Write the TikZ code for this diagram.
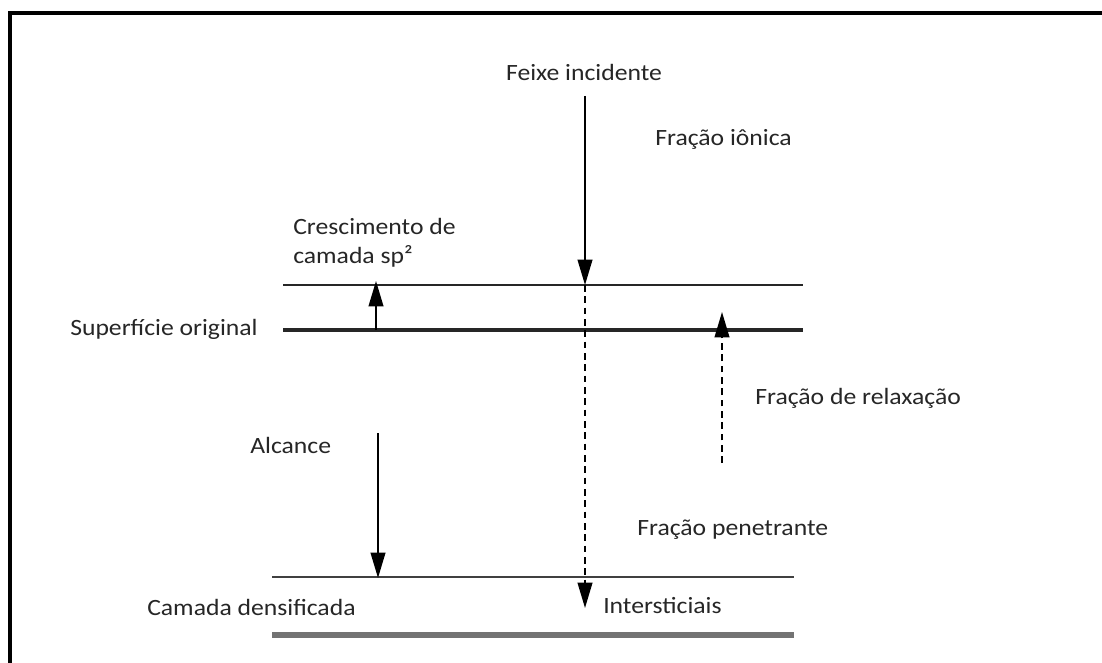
\documentclass[tikz,border=0pt]{standalone}
\usepackage{fontspec}
\setmainfont{Carlito}[FakeStretch=1.1]
\usetikzlibrary{arrows.meta}
\tikzset{
  lbl/.style={inner sep=0pt, font=\fontsize{17.5}{21}\selectfont, text=black!85, anchor=west},
  layer/.style={line width=1.7pt, draw=black!85},
  arr/.style={line width=1.4pt, -{Triangle[length=19pt,width=11pt]}},
  dsh/.style={line width=1.7pt, dash pattern=on 5pt off 3.5pt},
}
\begin{document}
\begin{tikzpicture}[x=0.75pt,y=-0.75pt]
\useasboundingbox (0,0) rectangle (1102,663);
\fill[white] (0,0) rectangle (1102,663);
% frame
\draw[line width=3pt] (10,663) -- (10,13) -- (1102,13);
% layer lines
\coordinate (l1a) at (283,285); \coordinate (l1b) at (803,285);
\coordinate (l2a) at (283,330); \coordinate (l2b) at (803,330);
\coordinate (l3a) at (272,577); \coordinate (l3b) at (794,577);
\coordinate (l4a) at (272,635); \coordinate (l4b) at (794,635);
\draw[layer] (l1a) -- (l1b);
\draw[layer, line width=2.4pt] (l2a) -- (l2b);
\draw[layer, line width=1.7pt, draw=black!75] (l3a) -- (l3b);
\draw[line width=3.8pt, draw=black!55] (l4a) -- (l4b);
% labels
\node[lbl, anchor=center] (feixe) at (584,72) {Feixe incidente};
\node[lbl] (ionica) at (655,139) {Fração iônica};
\node[lbl, align=left, anchor=north west] (cresc) at (293,218) {Crescimento de\\[1pt]camada sp²};
\node[lbl] (sup) at (70,329) {Superfície original};
\node[lbl] (relax) at (755,398) {Fração de relaxação};
\node[lbl] (alc) at (250,445) {Alcance};
\node[lbl] (pen) at (637,530) {Fração penetrante};
\node[lbl] (dens) at (147,607) {Camada densificada};
\node[lbl] (inter) at (603,606) {Intersticiais};
% arrows
\coordinate (b0) at (585,96);
\coordinate (b1) at (585,285);
\coordinate (b2) at (585,608);
\draw[arr] (b0) -- (b1);
\draw[dsh] (b1) -- (585,585);
\draw[arr] (585,583) -- (b2);
\coordinate (s0) at (376,330);
\coordinate (s1) at (376,281);
\draw[arr] (s0) -- (s1);
\coordinate (r0) at (722,463);
\coordinate (r1) at (722,312);
\draw[dsh] (r0) -- (722,335);
\draw[arr] (722,336) -- (r1);
\coordinate (a0) at (378,433);
\coordinate (a1) at (378,578);
\draw[arr] (a0) -- (a1);
\end{tikzpicture}
\end{document}
